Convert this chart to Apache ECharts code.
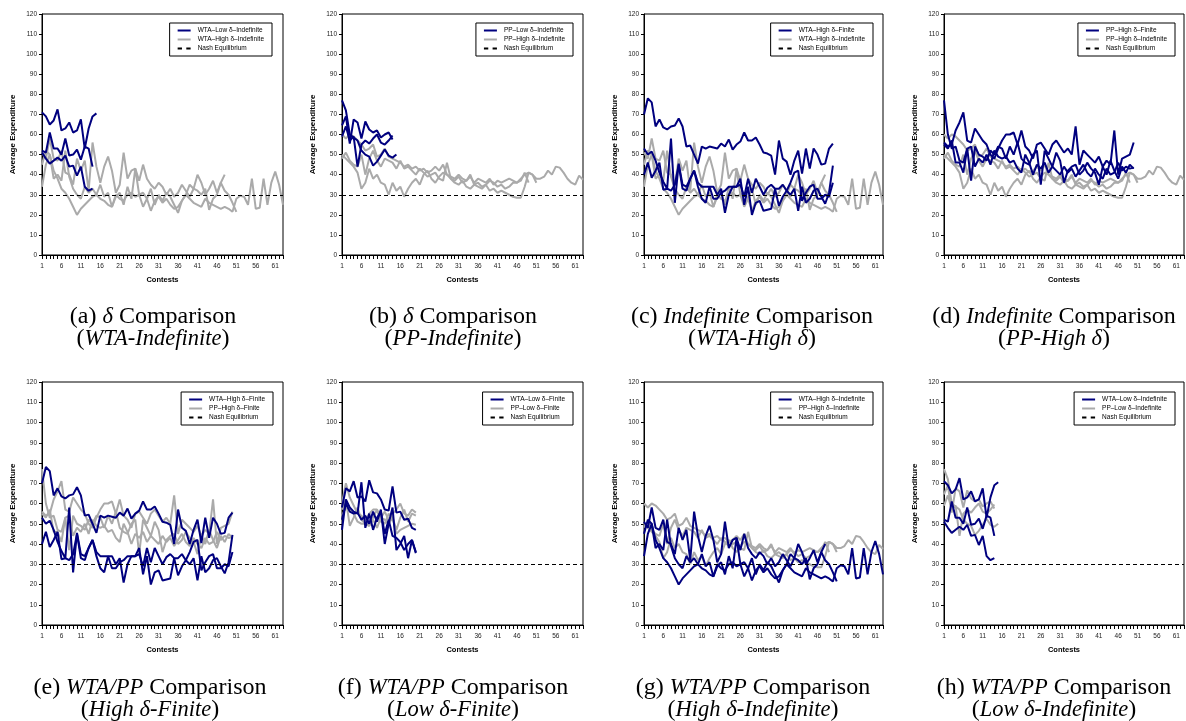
<!DOCTYPE html>
<html>
<head>
<meta charset="utf-8">
<script src="https://cdn.jsdelivr.net/npm/echarts@6/dist/echarts.min.js"></script>
<style>
  html, body { margin: 0; padding: 0; background: #fff; }
  #chart { width: 1186px; height: 721px; }
</style>
</head>
<body>
<div id="chart"></div>
<script>
// ---------------- DATA ----------------
const contestLabels = Array.from({ length: 63 }, (_, i) => String(i + 1));
const nashEquilibrium = 30;

// WTA – Low δ – Indefinite (3 sessions)
const wtaLowIndef = [
  [71, 69, 65, 67, 72.5, 62, 63, 66, 61, 62, 67.5, 53, 63, 69, 70.5],
  [52, 51, 61, 53, 53, 50, 58, 49.5, 50, 52.5, 47.5, 54, 53, 44],
  [51, 48, 45.5, 47, 48.5, 47, 49.5, 44, 44.5, 39.5, 44, 34, 32, 33]
];
// PP – Low δ – Indefinite
const ppLowIndef = [
  [77, 72, 60, 58.5, 57, 52, 50, 49, 44.5, 46.5, 49.5, 52.5, 49.5, 48.5, 50],
  [64.5, 69, 55.5, 67.5, 66, 58, 66.5, 62.5, 61, 62, 58.5, 60, 61, 57.5],
  [59, 64, 57, 59, 44, 55, 57, 55.5, 58, 60, 56, 55, 57, 59.5]
];
// WTA – High δ – Indefinite
const wtaHighIndef = [
  [34, 45, 50, 42, 38, 33, 31, 28, 24, 20,
   23, 25, 27, 29, 30, 28, 27, 25, 24, 30,
   28, 27, 30, 31, 29, 30, 24, 28, 22, 27,
   29, 26, 28, 25, 23, 24, 27, 30, 28, 26,
   25, 24, 28, 26, 25, 24, 23, 24, 23, 21.5,
   28, 29.5, 29, 25, 38, 23, 23.5, 38, 25, 36, 41.5, 35, 25],
  [51, 48, 58, 48, 47, 52, 41, 40, 35, 48,
   42, 47, 32, 56, 44, 36, 44, 49, 42, 31,
   35, 51, 38, 42, 43, 37, 45, 38, 35, 33,
   36, 34, 30, 33, 29, 31, 35, 32, 29, 33,
   40, 36, 30, 33, 37, 31, 36, 32, 30, 26, 21.5],
  [45, 52, 50, 38, 40, 37, 52, 39, 33, 30,
   28, 34, 31, 33, 30, 35, 29, 31, 24, 29,
   31, 25, 34, 28, 43, 30, 31, 28, 33, 25,
   30, 27, 31, 29, 25, 21, 27, 30, 35, 33,
   32, 30, 33, 22.5, 28, 30, 36, 40]
];
// PP – High δ – Indefinite
const ppHighIndef = [
  [60, 58, 60, 59, 57, 55, 52, 53, 55, 49,
   50, 53, 49, 48, 47, 46, 44, 45, 43, 44,
   42, 43, 41, 42, 44, 42, 45, 40, 39, 38,
   40, 38, 37, 39, 36, 38, 37, 36, 38, 35,
   37, 36, 37, 38, 37, 36, 38, 40, 41, 40,
   38, 38, 39, 42, 40, 44, 43.5, 41, 38, 36, 35, 39.5, 37.5],
  [50, 48, 46, 44, 41, 33, 36, 43, 38, 40,
   36, 35, 30, 36, 32, 34, 29, 33, 36, 38,
   35, 40, 42, 38, 36, 39, 41, 40, 38, 36,
   35, 37, 34, 33, 35, 34, 33, 35, 32, 33,
   31, 32, 31, 30, 29, 28.5, 28.5, 34, 41, 40, 36],
  [48, 51, 47, 45, 44, 50, 40, 48, 52, 47,
   44, 48, 47, 46, 43, 47, 43, 44, 42, 40,
   43, 41, 39, 40, 41, 38, 37, 46, 38, 37,
   39, 36, 37, 40, 35, 36, 34, 35, 37, 36,
   34, 35, 33, 34, 36, 36, 37, 41, 36]
];
// WTA – High δ – Finite
const wtaHighFin = [
  [70, 78, 76, 64, 67.5, 63.5, 62.5, 64, 64.5, 68,
   64, 54, 54.5, 50, 45.5, 54, 53, 54, 53.5, 53,
   55.5, 54, 57.5, 52.5, 55, 56.5, 61, 57, 57, 58.5,
   55, 51, 50.5, 49.5, 40, 57, 48, 46.5, 40, 47,
   52, 40.5, 53, 43, 53, 50, 45, 45.5, 53, 55.5],
  [53, 50, 51.5, 47, 41, 36.5, 33, 58, 26, 45.5,
   35, 34, 38, 42, 36, 34, 34, 34, 34, 30,
   33, 21, 30, 34, 34, 38, 25, 34, 20, 26,
   27, 22, 22.5, 23, 33, 24.5, 29, 32, 36, 41,
   42, 27, 31, 34, 35, 28, 28, 30, 29, 36],
  [40, 46, 38.5, 42, 46, 32.5, 33, 32, 35, 45,
   33, 32, 38, 42, 34, 28, 26, 34, 28, 28,
   31, 32, 34, 34, 34, 35, 29, 38, 31, 38,
   34, 30, 33.5, 35, 33, 33, 35, 32, 30, 33,
   22, 34, 26, 28, 32, 33, 29, 25.5, 31, 44.5]
];
// PP – High δ – Finite
const ppHighFin = [
  [56, 54, 55, 62, 66, 71, 57, 56, 63, 60,
   57, 55, 50, 48, 53, 57, 60, 60, 61, 55,
   62, 54, 52, 48, 55, 56, 53, 50, 55, 57,
   54, 51, 53, 50, 64, 45, 52, 50, 48, 46,
   49, 44, 47, 45, 62, 40, 48, 49, 50, 56],
  [77, 60, 53, 54, 47, 46, 53, 37, 54, 50,
   49, 47, 52, 50, 54, 53, 48, 54, 50, 56,
   48, 46, 45, 50, 52, 35, 52, 48, 44, 51,
   47, 36, 42, 44, 45, 40, 42, 46, 43, 41,
   35, 44, 40, 47, 42, 38, 44, 41, 45, 43],
  [55, 53, 57, 46, 46, 41, 53, 54, 44, 48,
   46, 50, 45, 52, 49, 48, 49, 46, 47, 43,
   41, 50, 46, 40, 45, 43, 46, 41, 44, 42,
   40, 44, 41, 43, 39, 42, 45, 41, 39, 43,
   40, 38, 43, 40, 41, 46, 42, 44, 43, 43.5]
];
// WTA – Low δ – Finite
const wtaLowFin = [
  [58, 67.5, 66, 71, 63, 63.5, 61, 71.5, 65.5, 65, 62, 57, 56.5, 68.5, 55.5, 56, 52, 52.5, 48, 47],
  [47, 62, 58, 56, 55, 70.5, 48, 55, 47, 53, 56, 45, 52, 44, 43, 41, 37, 40, 42, 36],
  [52, 60, 56, 55, 55.5, 52, 54, 50, 56, 51, 57, 40, 50, 58, 37, 40, 44, 33, 42, 35.5]
];
// PP – Low δ – Finite
const ppLowFin = [
  [60, 70, 63, 59, 55, 54, 51, 55, 57, 57, 53, 56, 52, 55, 57, 60, 55, 54, 57, 55.5],
  [57, 62, 49, 53, 58, 52, 50, 49, 53, 57, 51, 50, 55, 53, 47, 53, 57, 51, 55, 54],
  [54, 58, 57, 55, 51, 50, 50, 49, 52, 48, 53, 52, 50, 53, 45, 47, 48, 49, 50, 49.5]
];

// ---------------- PANELS ----------------
const panels = [
  { dark: wtaLowIndef, gray: wtaHighIndef, darkName: 'WTA–Low δ–Indefinite', grayName: 'WTA–High δ–Indefinite',
    cap: '{n|(a) }{i|δ}{n| Comparison}\n{n|(}{i|WTA-Indefinite}{n|)}' },
  { dark: ppLowIndef, gray: ppHighIndef, darkName: 'PP–Low δ–Indefinite', grayName: 'PP–High δ–Indefinite',
    cap: '{n|(b) }{i|δ}{n| Comparison}\n{n|(}{i|PP-Indefinite}{n|)}' },
  { dark: wtaHighFin, gray: wtaHighIndef, darkName: 'WTA–High δ–Finite', grayName: 'WTA–High δ–Indefinite',
    cap: '{n|(c) }{i|Indefinite}{n| Comparison}\n{n|(}{i|WTA-High δ}{n|)}' },
  { dark: ppHighFin, gray: ppHighIndef, darkName: 'PP–High δ–Finite', grayName: 'PP–High δ–Indefinite',
    cap: '{n|(d) }{i|Indefinite}{n| Comparison}\n{n|(}{i|PP-High δ}{n|)}' },
  { dark: wtaHighFin, gray: ppHighFin, darkName: 'WTA–High δ–Finite', grayName: 'PP–High δ–Finite',
    cap: '{n|(e) }{i|WTA/PP}{n| Comparison}\n{n|(}{i|High δ-Finite}{n|)}' },
  { dark: wtaLowFin, gray: ppLowFin, darkName: 'WTA–Low δ–Finite', grayName: 'PP–Low δ–Finite',
    cap: '{n|(f) }{i|WTA/PP}{n| Comparison}\n{n|(}{i|Low δ-Finite}{n|)}' },
  { dark: wtaHighIndef, gray: ppHighIndef, darkName: 'WTA–High δ–Indefinite', grayName: 'PP–High δ–Indefinite',
    cap: '{n|(g) }{i|WTA/PP}{n| Comparison}\n{n|(}{i|High δ-Indefinite}{n|)}' },
  { dark: wtaLowIndef, gray: ppLowIndef, darkName: 'WTA–Low δ–Indefinite', grayName: 'PP–Low δ–Indefinite',
    cap: '{n|(h) }{i|WTA/PP}{n| Comparison}\n{n|(}{i|Low δ-Indefinite}{n|)}' }
];
const nashName = 'Nash Equilibrium';

// ---------------- LAYOUT ----------------
const gridBoxes = [
  { left: 42, top: 14, width: 241, height: 241 },
  { left: 342, top: 14, width: 241, height: 241 },
  { left: 644, top: 14, width: 239, height: 241 },
  { left: 944, top: 14, width: 240, height: 241 },
  { left: 42, top: 382, width: 241, height: 243 },
  { left: 342, top: 382, width: 241, height: 243 },
  { left: 644, top: 382, width: 239, height: 243 },
  { left: 944, top: 382, width: 240, height: 243 }
];
const legendPos = [
  { right: 914, top: 23 }, { right: 613, top: 23 }, { right: 313, top: 23 }, { right: 11, top: 23 },
  { right: 913, top: 392 }, { right: 613, top: 392 }, { right: 313, top: 392 }, { right: 11, top: 392 }
];
const captionPos = [
  { x: 148, y: 301 }, { x: 448, y: 301 }, { x: 747, y: 301 }, { x: 1049, y: 301 },
  { x: 145, y: 672 }, { x: 448, y: 672 }, { x: 748, y: 672 }, { x: 1049, y: 672 }
];

const DARK = '#00007f';
const GRAY = '#aaaaaa';
const SANS = 'Liberation Sans, Arial, sans-serif';
const SERIF = 'Liberation Serif, serif';
const SOLID_ICON = 'path://M0,0h14v2h-14z';
const DASH_ICON = 'path://M0,0h4v2h-4zM8,0h4v2h-4z';

const option = {
  backgroundColor: '#fff',
  animation: false,
  grid: gridBoxes.map(g => Object.assign({ show: true, borderColor: '#000', borderWidth: 1, containLabel: false }, g)),
  xAxis: gridBoxes.map((g, i) => ({
    type: 'category', gridIndex: i, data: contestLabels, boundaryGap: false,
    axisLine: { show: true, onZero: false, lineStyle: { color: '#000', width: 1 } },
    axisTick: { show: true, interval: 0, length: 4, lineStyle: { color: '#000' } },
    axisLabel: { interval: 4, fontSize: 6.5, color: '#222', margin: 8, fontFamily: SANS },
    splitLine: { show: false },
    name: 'Contests', nameLocation: 'middle', nameGap: 21,
    nameTextStyle: { fontWeight: 'bold', fontSize: 7.5, fontFamily: SANS, color: '#000' }
  })),
  yAxis: gridBoxes.map((g, i) => ({
    type: 'value', gridIndex: i, min: 0, max: 120, interval: 10,
    axisLine: { show: true, lineStyle: { color: '#000', width: 1 } },
    axisTick: { show: true, length: 3, lineStyle: { color: '#000' } },
    axisLabel: { fontSize: 6.5, color: '#222', margin: 5, fontFamily: SANS },
    splitLine: { show: false },
    name: 'Average Expenditure', nameLocation: 'middle', nameGap: 25, nameRotate: 90,
    nameTextStyle: { fontWeight: 'bold', fontSize: 8, fontFamily: SANS, color: '#000' }
  })),
  legend: panels.map((p, i) => Object.assign({
    orient: 'vertical', selectedMode: false,
    itemGap: 2, itemWidth: 13, itemHeight: 2,
    symbolKeepAspect: false,
    padding: [4, 8, 4, 8],
    borderColor: '#000', borderWidth: 1, backgroundColor: '#fff',
    textStyle: { fontSize: 6.5, fontFamily: SANS, color: '#000', padding: [0, 0, 0, 2] },
    data: [
      { name: p.darkName + '#' + i, icon: SOLID_ICON },
      { name: p.grayName + '#' + i, icon: SOLID_ICON },
      { name: nashName + '#' + i, icon: DASH_ICON }
    ],
    formatter: n => n.split('#')[0]
  }, legendPos[i])),
  title: panels.map((p, i) => ({
    text: p.cap, left: captionPos[i].x, top: captionPos[i].y, textAlign: 'center',
    textStyle: {
      fontWeight: 'normal',
      rich: {
        n: { fontFamily: SERIF, fontSize: 24, fontWeight: 'normal', color: '#000', lineHeight: 22 },
        i: { fontFamily: SERIF, fontSize: 22.5, fontWeight: 'normal', fontStyle: 'italic', color: '#000', lineHeight: 22 }
      }
    }
  })),
  series: []
};

panels.forEach((p, i) => {
  p.gray.forEach(s => option.series.push({
    type: 'line', name: p.grayName + '#' + i, xAxisIndex: i, yAxisIndex: i,
    data: s, symbol: 'none', showSymbol: false, silent: true,
    lineStyle: { color: GRAY, width: 2 }, itemStyle: { color: GRAY }
  }));
  p.dark.forEach(s => option.series.push({
    type: 'line', name: p.darkName + '#' + i, xAxisIndex: i, yAxisIndex: i,
    data: s, symbol: 'none', showSymbol: false, silent: true,
    lineStyle: { color: DARK, width: 2 }, itemStyle: { color: DARK }
  }));
  option.series.push({
    type: 'line', name: nashName + '#' + i, xAxisIndex: i, yAxisIndex: i,
    data: [], symbol: 'none', silent: true,
    lineStyle: { color: '#000', width: 1, type: [3, 3] }, itemStyle: { color: '#000' },
    markLine: {
      silent: true, symbol: ['none', 'none'], label: { show: false },
      lineStyle: { color: '#000', width: 1, type: [4, 3] },
      data: [{ yAxis: nashEquilibrium }]
    }
  });
});

const chart = echarts.init(document.getElementById('chart'), null, { renderer: 'canvas' });
chart.setOption(option);
</script>
</body>
</html>
